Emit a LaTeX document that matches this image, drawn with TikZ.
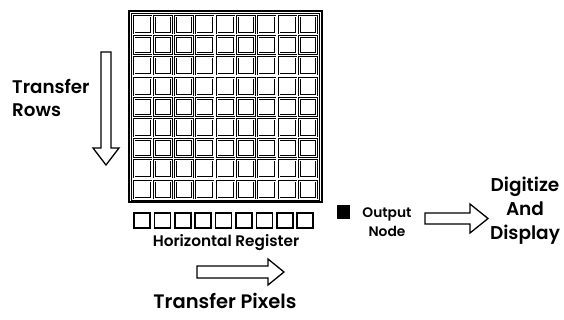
\documentclass[tikz,border=0pt]{standalone}
\usepackage{fontspec}
\setmainfont{Poppins}[UprightFont={* SemiBold}, BoldFont={* Bold}]
\begin{document}
\begin{tikzpicture}[x=1pt,y=-1pt,
  cell/.style={draw, line width=1pt, double=white, double distance=0.45pt},
  regcell/.style={draw, line width=1.7pt},
  blockarrow/.style={draw, line width=1.3pt, line join=miter, fill=white},
  lbl/.style={inner sep=0pt, align=center}]
\useasboundingbox (0,0) rectangle (564,320);
% CCD frame
\draw[line width=2.2pt] (128.9,10.9) rectangle (321.6,202.4);
\draw[line width=0.7pt] (131.4,13.4) rectangle (319.5,200.4);
% 9x9 pixel cells
\foreach \i in {0,...,8}{
  \foreach \j in {0,...,8}{
    \draw[cell] ({134+20.7*\i},{16+20.6*\j}) rectangle +(17,17);
  }
}
% horizontal register
\foreach \i in {0,...,8}{
  \draw[regcell] ({134+20.4*\i},213) rectangle +(16,15);
}
\node[lbl, font=\fontsize{15.3}{18}\selectfont, anchor=north] (hreg) at (226,234) {Horizontal Register};
% transfer rows
\draw[blockarrow] (101,52) -- (111,52) -- (111,148) -- (119,148) -- (106,165) -- (93,148) -- (101,148) -- cycle;
\node[lbl, font=\fontsize{18.3}{23}\selectfont, anchor=west, align=left] (rows) at (12,98) {Transfer\\Rows};
% transfer pixels
\draw[blockarrow] (197,266) -- (268,266) -- (268,259) -- (284,272) -- (268,285) -- (268,278) -- (197,278) -- cycle;
\node[lbl, font=\fontsize{19.5}{22}\selectfont] (pix) at (225,301) {Transfer Pixels};
% output node
\fill (337,205.5) rectangle (350,219);
\node[lbl, font=\fontsize{13.8}{19}\selectfont] (out) at (387,222) {Output\\Node};
\draw[blockarrow] (425,213) -- (470,213) -- (470,204) -- (488,218.5) -- (470,233) -- (470,224) -- (425,224) -- cycle;
\node[lbl, font=\fontsize{18.5}{24}\selectfont] (dig) at (525,211) {Digitize\\And\\Display};
\end{tikzpicture}
\end{document}
